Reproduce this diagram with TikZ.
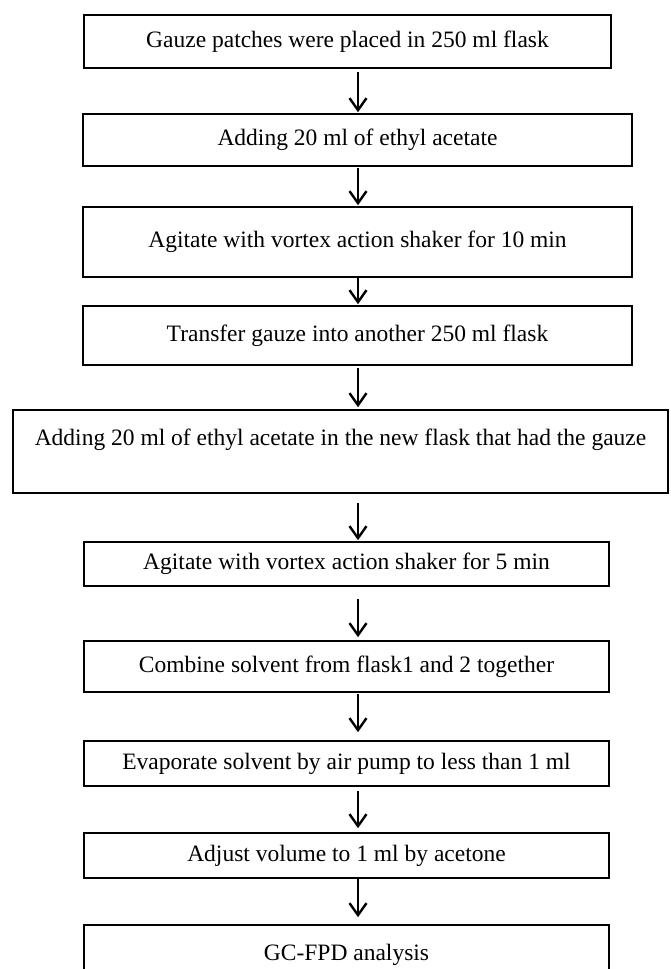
\documentclass[tikz,border=0pt]{standalone}
\usepackage{fontspec}
\setmainfont{Liberation Serif}
\usetikzlibrary{arrows.meta}
\begin{document}
\begin{tikzpicture}[x=1pt,y=-1pt,
  box/.style={draw, line width=1.6pt, inner sep=0pt, font=\fontsize{23.5}{28}\selectfont, align=center},
  flow/.style={line width=1.4pt, -{Straight Barb[length=12pt,width=17pt,line width=2.4pt]}}]
\useasboundingbox (0,0) rectangle (670,969);
\clip (0,0) rectangle (670,969);
\coordinate (ax) at (358,0);
\node[box, minimum width=527, minimum height=53] (b1) at (347.5,41.5) {Gauze patches were placed in 250 ml flask};
\node[box, minimum width=549, minimum height=52] (b2) at (357.5,140) {Adding 20 ml of ethyl acetate};
\node[box, minimum width=549, minimum height=70] (b3) at (357.5,242) {Agitate with vortex action shaker for 10 min};
\node[box, minimum width=549, minimum height=59] (b4) at (357.5,335.5) {Transfer gauze into another 250 ml flask};
\node[box, minimum width=655, minimum height=83] (b5) at (340.5,451.5) {Adding 20 ml of ethyl acetate in the new flask that had the gauze\\[1pt]\mbox{}};
\node[box, minimum width=525, minimum height=44] (b6) at (346.5,564) {Agitate with vortex action shaker for 5 min};
\node[box, minimum width=525, minimum height=51] (b7) at (346.5,666.5) {Combine solvent from flask1 and 2 together};
\node[box, minimum width=525, minimum height=45] (b8) at (346.5,763.5) {Evaporate solvent by air pump to less than 1 ml};
\node[box, minimum width=525, minimum height=45] (b9) at (346.5,855.5) {Adjust volume to 1 ml by acetone};
\node[box, minimum width=525, minimum height=60] (b10) at (346.5,955) {GC-FPD analysis};
\draw[flow, shorten <=3pt, shorten >=1pt] (b1.south -| ax) -- (b2.north -| ax);
\draw[flow, shorten <=1pt, shorten >=1pt] (b2.south -| ax) -- (b3.north -| ax);
\draw[flow, shorten <=0pt, shorten >=1pt] (b3.south -| ax) -- (b4.north -| ax);
\draw[flow, shorten <=2pt, shorten >=2pt] (b4.south -| ax) -- (b5.north -| ax);
\draw[flow, shorten <=9pt, shorten >=1pt] (b5.south -| ax) -- (b6.north -| ax);
\draw[flow, shorten <=12pt, shorten >=3pt] (b6.south -| ax) -- (b7.north -| ax);
\draw[flow, shorten <=1pt, shorten >=8pt] (b7.south -| ax) -- (b8.north -| ax);
\draw[flow, shorten <=4pt, shorten >=4pt] (b8.south -| ax) -- (b9.north -| ax);
\draw[flow, shorten <=0pt, shorten >=7pt] (b9.south -| ax) -- (b10.north -| ax);
\end{tikzpicture}
\end{document}
